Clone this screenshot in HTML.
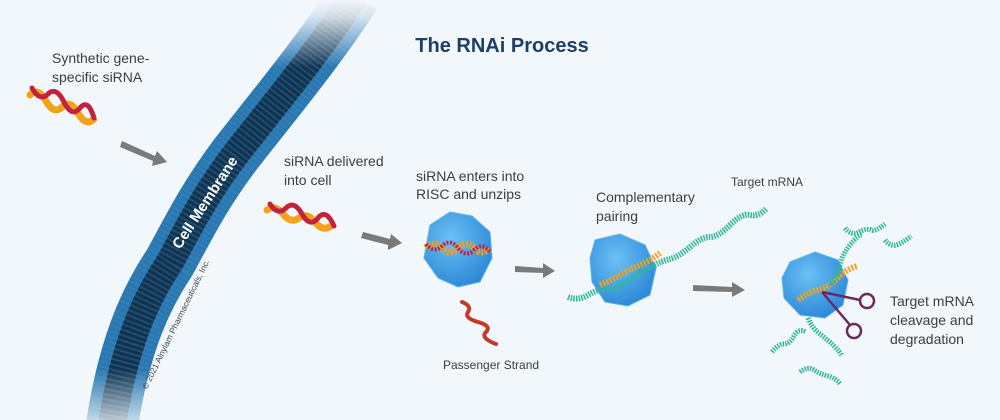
<!DOCTYPE html>
<html><head><meta charset="utf-8"><style>
html,body{margin:0;padding:0;background:#f1f7fb;}
svg{display:block}
text{font-family:"Liberation Sans",sans-serif;}
</style></head><body>
<svg width="1000" height="420" viewBox="0 0 1000 420" xmlns="http://www.w3.org/2000/svg">
<defs>
<linearGradient id="fade" x1="0" y1="0" x2="0" y2="1">
<stop offset="0" stop-color="#f1f7fb" stop-opacity="1"/>
<stop offset="0.04" stop-color="#f1f7fb" stop-opacity="0.85"/>
<stop offset="0.16" stop-color="#f1f7fb" stop-opacity="0"/>
<stop offset="0.88" stop-color="#f1f7fb" stop-opacity="0"/>
<stop offset="1" stop-color="#f1f7fb" stop-opacity="0.75"/>
</linearGradient>
<radialGradient id="risc" cx="0.4" cy="0.35" r="0.7">
<stop offset="0" stop-color="#6cc0f5"/><stop offset="1" stop-color="#2a86d6"/>
</radialGradient>
</defs>
<rect width="1000" height="420" fill="#f1f7fb"/>
<!-- membrane -->
<g fill="none">
<path d="M355,-5 C320,50 270,110 235,155 C205,195 190,225 170,262 C148,295 125,340 112,425" stroke="#2b78b0" stroke-width="52"/>
<path d="M355,-5 C320,50 270,110 235,155 C205,195 190,225 170,262 C148,295 125,340 112,425" stroke="#12324d" stroke-width="28"/>
<path d="M355,-5 C320,50 270,110 235,155 C205,195 190,225 170,262 C148,295 125,340 112,425" stroke="#3f93cc" stroke-width="50" stroke-dasharray="2 3" opacity="0.3"/>
</g>
<rect width="420" height="420" fill="url(#fade)"/>
<text x="0" y="0" transform="translate(180,250) rotate(-57)" fill="#fff" font-size="15" font-weight="bold">Cell Membrane</text>
<text x="0" y="0" transform="translate(147,390) rotate(-64)" fill="#444" font-size="8.5">© 2021 Alnylam Pharmaceuticals, Inc.</text>

<text x="502" y="52" text-anchor="middle" fill="#1b3f66" font-size="20" font-weight="bold">The RNAi Process</text>

<g fill="#3d3d3d" font-size="14">
<text x="52" y="63">Synthetic gene-</text><text x="52" y="82">specific siRNA</text>
<text x="284" y="166">siRNA delivered</text><text x="284" y="185">into cell</text>
<text x="416" y="181">siRNA enters into</text><text x="416" y="199">RISC and unzips</text>
<text x="596" y="202">Complementary</text><text x="596" y="221">pairing</text>
<text x="890" y="306">Target mRNA</text><text x="890" y="325">cleavage and</text><text x="890" y="344">degradation</text>
</g>
<text x="731" y="186" fill="#3d3d3d" font-size="12">Target mRNA</text>
<text x="443" y="369" fill="#3d3d3d" font-size="12">Passenger Strand</text>

<!-- arrows -->
<g fill="#7a7a7a">
<path d="M122,141 L155,156 L157,151 L167,162 L152,166 L153,161 L120,147Z"/>
<path d="M363,232 L390,239 L391,234 L402,243 L388,250 L388,245 L361,238Z"/>
<path d="M515,266 L543,268 L543,263 L555,271 L543,278 L543,273 L515,272Z"/>
<path d="M693,285 L732,287 L732,282 L745,290 L732,297 L732,292 L693,291Z"/>
</g>

<!-- siRNA duplexes -->
<g fill="none" stroke-linecap="round">
<path d="M30,95 q8,-8 16,6 t16,6 t16,6 t16,6" stroke="#f2a21b" stroke-width="7" stroke-dasharray="1.5 1.5"/>
<path d="M32,88 q8,14 16,6 t16,8 t16,6 t14,10" stroke="#c4213f" stroke-width="5" stroke-dasharray="1.5 1.5"/>
<path d="M267,210 q8,-6 16,4 t16,4 t16,4 t16,4" stroke="#f2a21b" stroke-width="7" stroke-dasharray="1.5 1.5"/>
<path d="M270,204 q8,12 16,4 t16,6 t16,4 t16,8" stroke="#c4213f" stroke-width="5" stroke-dasharray="1.5 1.5"/>
<path d="M462,302 q10,4 6,10 t10,10 t8,10 t10,12" stroke="#c43a2a" stroke-width="4" stroke-dasharray="1.5 1"/>
</g>

<!-- RISC 1 -->
<path d="M430,225 L450,212 L472,216 L490,232 L492,258 L480,282 L458,287 L438,278 L424,258 Z" fill="url(#risc)" stroke="#5ab2ef" stroke-width="1"/>
<path d="M426,248 q8,-8 16,0 t16,0 t16,0 t16,0" fill="none" stroke="#f2a21b" stroke-width="7" stroke-dasharray="2 1.5"/>
<path d="M426,244 q8,10 16,2 t16,2 t16,2 t16,2" fill="none" stroke="#c4213f" stroke-width="4" stroke-dasharray="2 1.5"/>

<!-- RISC 2 -->
<path d="M595,240 L620,234 L645,245 L656,268 L650,295 L628,306 L605,302 L592,282 L590,258 Z" fill="url(#risc)" stroke="#5ab2ef"/>
<path d="M568,297 q10,4 20,-2 t20,-6 t20,-8 t22,-14 t20,-8 t20,-12 t20,-10 t20,-12 t20,-10 t16,-6" fill="none" stroke="#2fb59a" stroke-width="6" stroke-dasharray="1.5 1.2"/>
<path d="M600,285 q10,-4 20,-10 t20,-10 t20,-12" fill="none" stroke="#f2a21b" stroke-width="6" stroke-dasharray="2 1.5"/>

<!-- RISC 3 -->
<path d="M790,262 L815,252 L838,260 L848,280 L843,305 L825,318 L800,315 L784,298 L782,278 Z" fill="url(#risc)" stroke="#5ab2ef"/>
<path d="M798,300 q10,-8 20,-10 t20,-12 t20,-12" fill="none" stroke="#f2a21b" stroke-width="6" stroke-dasharray="2 1.5"/>
<g fill="none" stroke="#2fb59a" stroke-width="5" stroke-dasharray="1.5 1.2">
<path d="M830,285 q8,-10 10,-20 t10,-20 t12,-10"/>
<path d="M808,318 q4,10 12,16 t14,12 t8,10"/>
<path d="M772,352 q6,-8 12,-8 t10,-8 t12,-4"/>
<path d="M800,372 q8,-6 14,-2 t14,6 t12,8"/>
<path d="M845,228 q6,8 14,4 t12,-2 t14,-6"/>
<path d="M885,240 q6,8 14,4 t12,-8"/>
</g>
<!-- scissors -->
<g fill="none" stroke="#6b2a5f" stroke-width="2.5">
<path d="M822,292 L860,300"/><path d="M822,292 L850,325"/>
<circle cx="867" cy="301" r="7"/><circle cx="854" cy="331" r="7"/>
</g>
</svg>
</body></html>
